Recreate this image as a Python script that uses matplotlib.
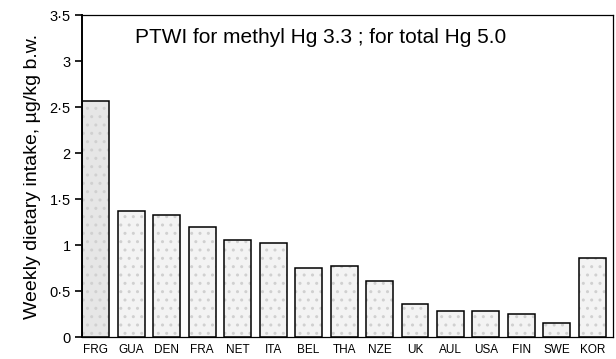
import numpy as np
import matplotlib
matplotlib.use("Agg")
import matplotlib.pyplot as plt

plt.rcParams['font.family'] = ['Liberation Sans', 'DejaVu Sans']

# countries and weekly dietary intake of Hg (ug/kg b.w.)
countries = ["FRG", "GUA", "DEN", "FRA", "NET", "ITA", "BEL", "THA",
             "NZE", "UK", "AUL", "USA", "FIN", "SWE", "KOR"]
intake = [2.57, 1.37, 1.33, 1.20, 1.05, 1.02, 0.75, 0.77,
          0.61, 0.36, 0.28, 0.28, 0.25, 0.15, 0.86]
yticks = [0, 0.5, 1, 1.5, 2, 2.5, 3, 3.5]
ytick_labels = ["0", "0·5", "1", "1·5", "2", "2·5", "3", "3·5"]

fig = plt.figure(figsize=(6.16, 3.59), dpi=100)
ax = fig.add_axes([0.133, 0.061, 0.862, 0.897])

x = np.arange(len(countries))
fills = ['#e6e6e6'] + ['#f3f3f3'] * (len(countries) - 1)
# stippled fill, then the outline on top
ax.bar(x, intake, width=0.76, color=fills, edgecolor='#d0d0d0',
       hatch='..', linewidth=0)
ax.bar(x, intake, width=0.76, fill=False, edgecolor='black', linewidth=1.1)

ax.set_xlim(-0.39, 14.58)
ax.set_ylim(0, 3.5)
ax.set_yticks(yticks)
ax.set_yticklabels(ytick_labels, fontsize=10.5)
ax.set_xticks(x)
ax.set_xticklabels(countries, fontsize=8.5)
ax.tick_params(axis='x', length=0, pad=5)
ax.tick_params(axis='y', direction='out', length=5, width=1.2, pad=3)

for side in ['top', 'right', 'bottom']:
    ax.spines[side].set_linewidth(0.9)
ax.spines['left'].set_linewidth(1.4)

ax.set_ylabel("Weekly dietary intake, µg/kg b.w.", fontsize=14, labelpad=6)
ax.text(0.10, 0.93, "PTWI for methyl Hg 3.3 ; for total Hg 5.0",
        transform=ax.transAxes, fontsize=15, va='center', ha='left')

fig.savefig("out.png", dpi=100)
